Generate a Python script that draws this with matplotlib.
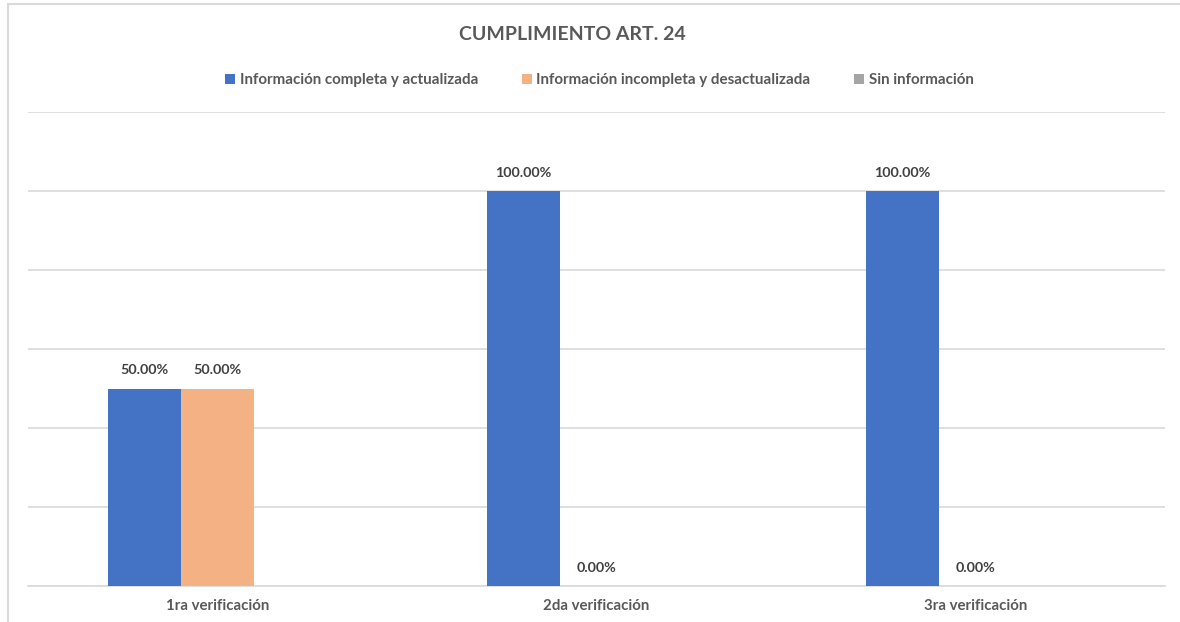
import numpy as np
import matplotlib.pyplot as plt
from matplotlib.patches import Rectangle

plt.rcParams['font.family'] = ['Lato', 'DejaVu Sans']

categories = ['1ra verificación', '2da verificación', '3ra verificación']
series_names = ['Información completa y actualizada',
                'Información incompleta y desactualizada',
                'Sin información']
completa = [0.50, 1.00, 1.00]
incompleta = [0.50, 0.00, 0.00]
sin_info = [np.nan, np.nan, np.nan]
colors = ['#4472C4', '#F4B183', '#A5A5A5']

fig = plt.figure(figsize=(11.8, 6.22), dpi=100)
ax = fig.add_axes([28 / 1180, 36 / 622, 1137 / 1180, 474 / 622])

x = np.arange(len(categories))
w = 0.192
all_series = [completa, incompleta, sin_info]
for i, (vals, name, c) in enumerate(zip(all_series, series_names, colors)):
    bars = ax.bar(x + (i - 1) * w, vals, width=w, color=c, label=name, zorder=3)
    if i == 2:
        continue
    for b, v in zip(bars, vals):
        if np.isnan(v):
            continue
        ax.annotate(f'{v * 100:.2f}%', (b.get_x() + b.get_width() / 2, v),
                    xytext=(0, 9), textcoords='offset points', ha='center',
                    va='bottom', fontsize=10.3, fontweight='bold', color='#404040')

ax.set_xlim(-0.5, 2.5)
ax.set_ylim(0, 1.2)
ax.set_yticks(np.arange(0, 1.21, 0.2))
ax.set_yticklabels([])
ax.tick_params(axis='y', length=0)
ax.grid(axis='y', color='#D9D9D9', linewidth=1.2, zorder=0)
ax.set_xticks(x)
ax.set_xticklabels(categories, fontsize=10.8, fontweight='bold', color='#595959')
ax.tick_params(axis='x', length=0, pad=9)
for s in ['top', 'right', 'left']:
    ax.spines[s].set_visible(False)
ax.spines['bottom'].set_color('#D9D9D9')
ax.spines['bottom'].set_linewidth(1.2)

fig.text(0.485, 1 - 35 / 622, 'CUMPLIMIENTO ART. 24', ha='center', va='center',
         fontsize=14, fontweight='bold', color='#595959')
fig.legend(loc='center', bbox_to_anchor=(0.508, 1 - 80 / 622), ncol=3, frameon=False,
           handlelength=0.65, handleheight=0.65, handletextpad=0.3,
           columnspacing=2.9, prop={'weight': 'bold', 'size': 10.9}, labelcolor='#595959')

fig.patches.append(Rectangle((8 / 1180, -0.1), 1.2, 1 - 4 / 622 + 0.1,
                             transform=fig.transFigure, fill=False,
                             edgecolor='#D9D9D9', linewidth=1.5))

fig.savefig('out.png', dpi=100)
